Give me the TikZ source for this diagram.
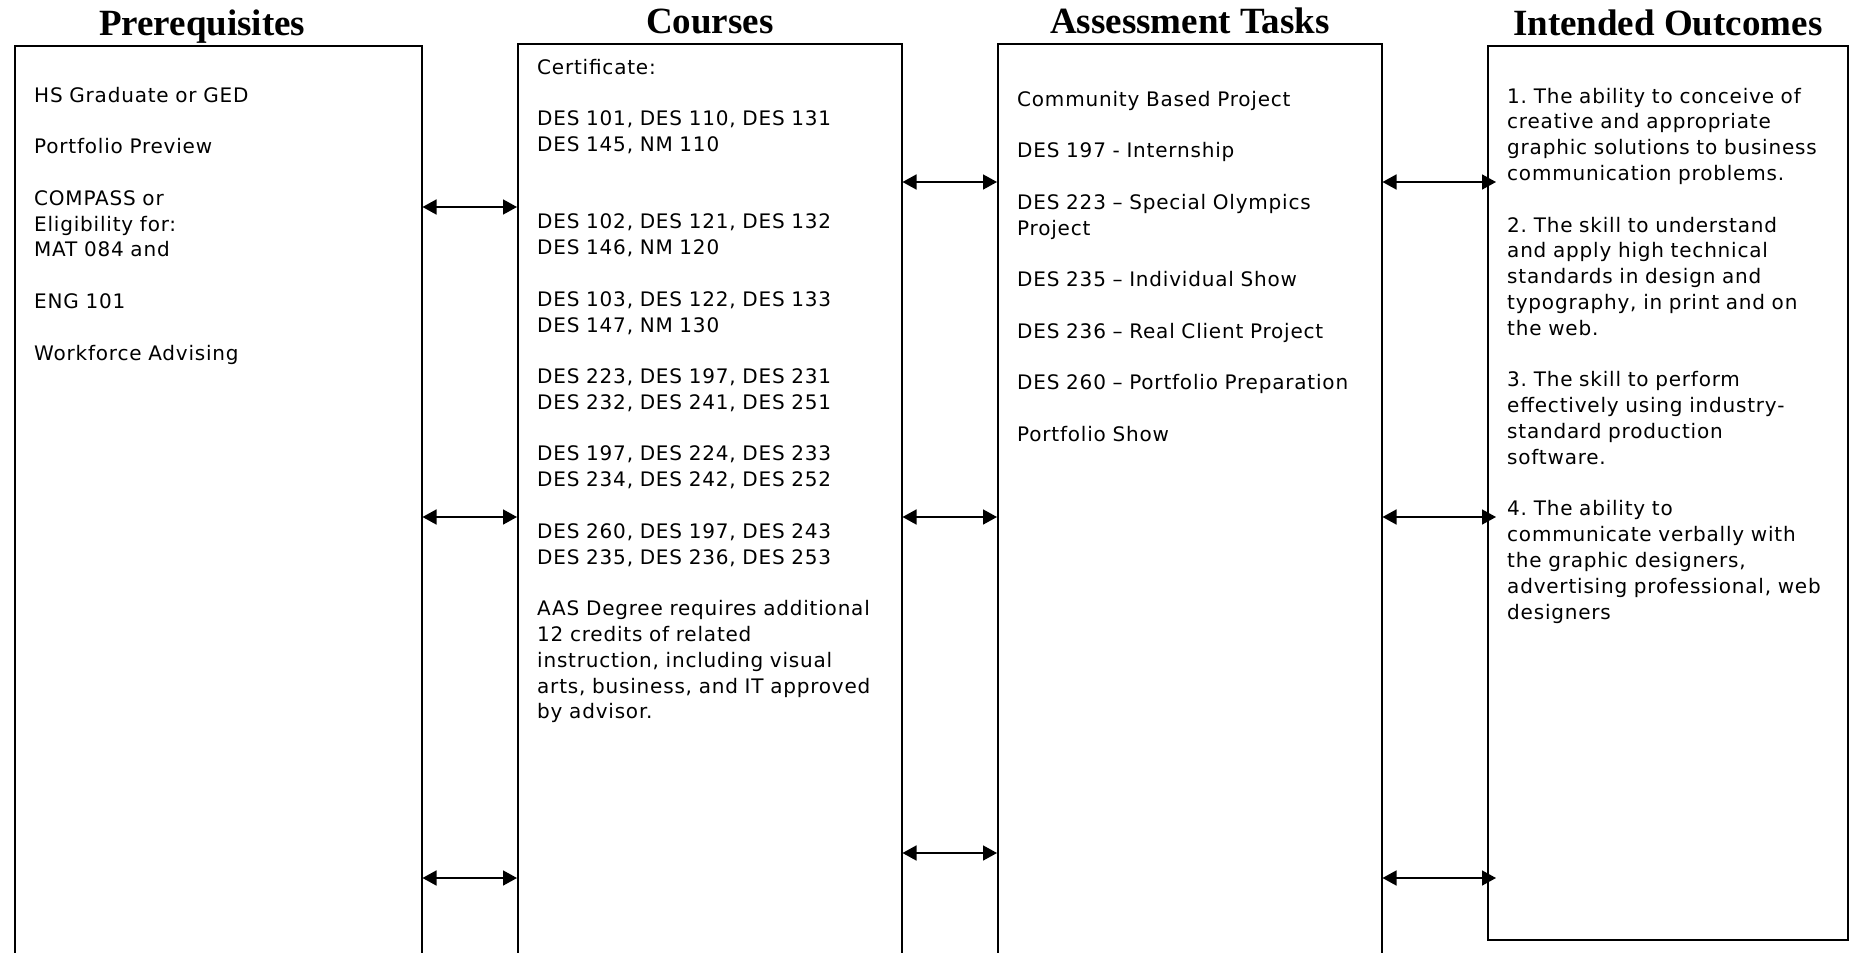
\documentclass[tikz,border=0pt]{standalone}
\usepackage{fontspec}
\newfontfamily\bodyfont[LetterSpace=4]{DejaVu Sans}
\newfontfamily\headfont{Liberation Serif}
\usetikzlibrary{arrows.meta}
\newcommand{\skipline}{\\[25.8pt]}
\tikzset{
	box/.style={draw,line width=1.5pt,anchor=north west,inner sep=0pt},
	head/.style={anchor=base,font=\fontsize{37}{40}\selectfont\headfont\bfseries},
	entries/.style={anchor=base west,inner sep=0pt,text width=400pt,align=left,
		font=\fontsize{20}{25.8}\selectfont\bodyfont\frenchspacing},
	link/.style={<->,>={Triangle[length=14pt,width=15pt]},line width=1.6pt}
}
\begin{document}
\begin{tikzpicture}[x=1pt,y=1pt]
	\useasboundingbox (0,0) rectangle (1850,-953);
	% the four columns
	\node[box,minimum width=407pt,minimum height=960pt] (pre) at (14,-45) {};
	\node[box,minimum width=384pt,minimum height=960pt] (crs) at (517,-43) {};
	\node[box,minimum width=384pt,minimum height=960pt] (asm) at (997,-43) {};
	\node[box,minimum width=360pt,minimum height=894pt] (out) at (1487,-45) {};
	\node[head] (prehead) at ([xshift=-16pt,yshift=10pt]pre.north) {Prerequisites};
	\node[head] (crshead) at ([yshift=10pt]crs.north) {Courses};
	\node[head] (asmhead) at ([yshift=10pt]asm.north) {Assessment Tasks};
	\node[head] (outhead) at ([yshift=10pt]out.north) {Intended Outcomes};
	% column texts
	\node[entries] (pretext) at (34,-102) {HS Graduate or GED\skipline
		Portfolio Preview\skipline
		COMPASS or\\
		Eligibility for:\\
		MAT 084 and\skipline
		ENG 101\skipline
		Workforce Advising};
	\node[entries] (crstext) at (537,-74) {Certificate:\skipline
		DES 101, DES 110, DES 131\\
		DES 145, NM 110\\[51.6pt]
		DES 102, DES 121, DES 132\\
		DES 146, NM 120\skipline
		DES 103, DES 122, DES 133\\
		DES 147, NM 130\skipline
		DES 223, DES 197, DES 231\\
		DES 232, DES 241, DES 251\skipline
		DES 197, DES 224, DES 233\\
		DES 234, DES 242, DES 252\skipline
		DES 260, DES 197, DES 243\\
		DES 235, DES 236, DES 253\skipline
		AAS Degree requires additional\\
		12 credits of related\\
		instruction, including visual\\
		arts, business, and IT approved\\
		by advisor.};
	\node[entries] (asmtext) at (1017,-106) {Community Based Project\skipline
		DES 197 - Internship\skipline
		DES 223 – Special Olympics\\
		Project\skipline
		DES 235 – Individual Show\skipline
		DES 236 – Real Client Project\skipline
		DES 260 – Portfolio Preparation\skipline
		Portfolio Show};
	\node[entries] (outtext) at (1507,-103) {1. The ability to conceive of\\
		creative and appropriate\\
		graphic solutions to business\\
		communication problems.\skipline
		2. The skill to understand\\
		and apply high technical\\
		standards in design and\\
		typography, in print and on\\
		the web.\skipline
		3. The skill to perform\\
		effectively using industry-\\
		standard production\\
		software.\skipline
		4. The ability to\\
		communicate verbally with\\
		the graphic designers,\\
		advertising professional, web\\
		designers};
	% arrows between columns
	\coordinate (outedge) at ([xshift=9pt]out.west);
	\draw[link] (pre.east |- 0,-207) -- (crs.west |- 0,-207);
	\draw[link] (pre.east |- 0,-517) -- (crs.west |- 0,-517);
	\draw[link] (pre.east |- 0,-878) -- (crs.west |- 0,-878);
	\draw[link] (crs.east |- 0,-182) -- (asm.west |- 0,-182);
	\draw[link] (crs.east |- 0,-517) -- (asm.west |- 0,-517);
	\draw[link] (crs.east |- 0,-853) -- (asm.west |- 0,-853);
	\draw[link] (asm.east |- 0,-182) -- (outedge |- 0,-182);
	\draw[link] (asm.east |- 0,-517) -- (outedge |- 0,-517);
	\draw[link] (asm.east |- 0,-878) -- (outedge |- 0,-878);
\end{tikzpicture}
\end{document}
